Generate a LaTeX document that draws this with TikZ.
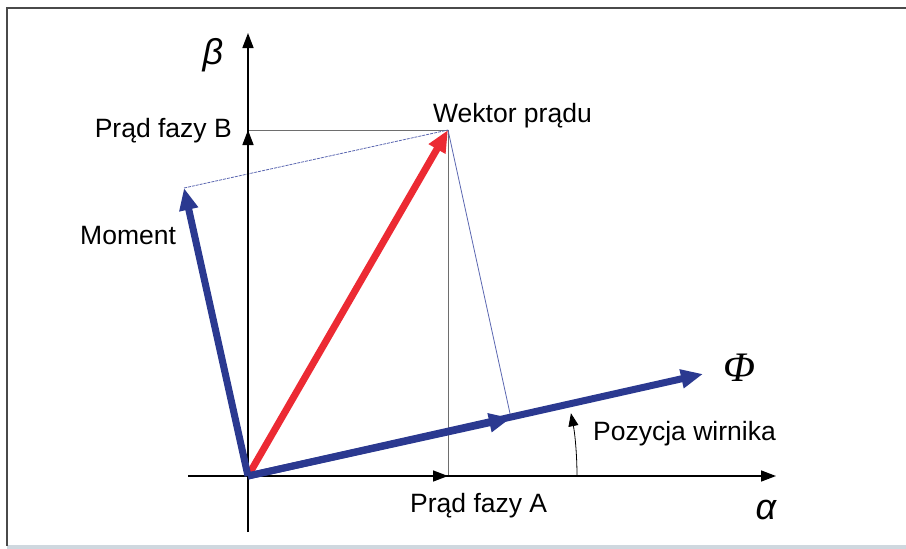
\documentclass[tikz,border=0pt]{standalone}
\usepackage{fontspec}
\setmainfont{Liberation Sans}
\newfontfamily\grkserif{Liberation Serif}
\usetikzlibrary{arrows.meta}
\definecolor{vblue}{HTML}{2B3990}
\definecolor{vred}{HTML}{EC2A33}
\definecolor{tblue}{HTML}{5A66B0}
\definecolor{frame}{HTML}{4A4A4A}
\definecolor{band}{HTML}{CFD8DF}
\definecolor{tgray}{HTML}{6E6E6E}
\begin{document}
\begin{tikzpicture}[x=1pt,y=-1pt,
  axis/.style={line width=1.5pt,black},
  axtip/.style={-{Triangle[length=15pt,width=11pt]}},
  thick vec/.style={line width=7pt,-{Triangle[length=22pt,width=18pt]}},
  thin gray/.style={line width=1pt,color=tgray},
  thin blue/.style={line width=0.8pt,color=tblue},
  lbl/.style={font=\fontsize{26.5}{30}\selectfont,inner sep=0pt},
  greek/.style={font=\fontsize{36}{40}\selectfont\itshape,inner sep=0pt}]
\useasboundingbox (0,0) rectangle (906,549);
% frame
\fill[band] (7,545) rectangle (906,549);
\draw[frame,line width=2pt] (906,7.5) -- (6.5,7.5) -- (6.5,546);
% points
\coordinate (O) at (248,476);
\coordinate (I) at (448,130);
\coordinate (A) at (448,476);
\coordinate (B) at (248,130);
\coordinate (F) at (703,374);
\coordinate (P) at (511,418);
\coordinate (M) at (184,188);
\coordinate (XL) at (188,476);
\coordinate (XR) at (776,476);
\coordinate (YB) at (248,532);
\coordinate (YT) at (248,33);
% thin construction lines
\draw[thin gray] (B) -- (I) -- (A);
\draw[thin blue] (I) -- (P);
\draw[thin blue,dash pattern=on 3pt off 1pt] (M) -- (I);
% axes
\draw[axis,axtip] (XL) -- (XR);
\draw[axis,axtip] (YB) -- (YT);
\draw[axis,axtip] (O) -- (A);
\draw[axis,axtip] (O) -- (B);
% angle
\draw[line width=0.8pt,-{Triangle[length=13pt,width=10pt]}] (577,476) arc[start angle=0,end angle=-11,radius=329];
% vectors
\draw[thick vec,vred] (O) -- (I);
\draw[thick vec,vblue] (O) -- (P);
\draw[thick vec,vblue] (O) -- (F);
\draw[thick vec,vblue] (O) -- (M);
% labels
\node[greek,anchor=center] (beta) at (213,55) {β};
\node[greek,anchor=center] (alpha) at (766,510) {α};
\node[greek,anchor=center,font=\fontsize{42}{46}\selectfont\itshape] (phi) at (739,368) {\grkserif Φ};
\node[lbl,anchor=base east] (pb) at (232,137) {Prąd fazy B};
\node[lbl,anchor=base west] (wp) at (433,122) {Wektor prądu};
\node[lbl,anchor=base west] (mom) at (80,244) {Moment};
\node[lbl,anchor=base west] (poz) at (593,440) {Pozycja wirnika};
\node[lbl,anchor=base west] (pa) at (410,512) {Prąd fazy A};
\end{tikzpicture}
\end{document}
